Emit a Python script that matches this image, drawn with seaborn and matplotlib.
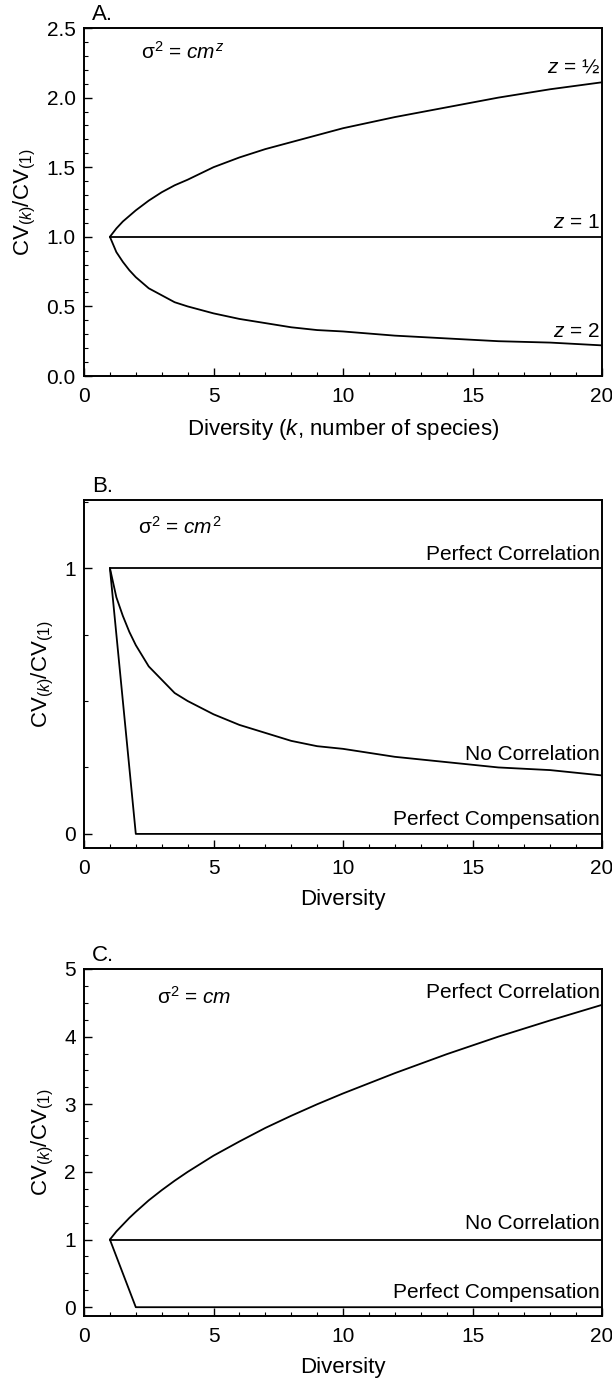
import matplotlib
matplotlib.use("Agg")
import matplotlib.pyplot as plt
import seaborn as sns
from matplotlib.ticker import MultipleLocator

# ---------------- data ----------------
k_pts = [1, 1.25, 1.5, 1.75, 2, 2.5, 3, 3.5, 4, 5, 6, 7, 8, 9, 10, 12, 14, 16, 18, 20]

# Panel A
a_z_half = [1.00, 1.06, 1.11, 1.15, 1.19, 1.26, 1.32, 1.37, 1.41, 1.50, 1.57, 1.63, 1.68, 1.73, 1.78, 1.86, 1.93, 2.00, 2.06, 2.11]
a_z_one = [1.00] * 20
a_z_two = [1.00, 0.89, 0.82, 0.76, 0.71, 0.63, 0.58, 0.53, 0.50, 0.45, 0.41, 0.38, 0.35, 0.33, 0.32, 0.29, 0.27, 0.25, 0.24, 0.22]

# Panel B
b_perf_corr_x = [1, 20]
b_perf_corr_y = [1.0, 1.0]
b_no_corr = [1.00, 0.89, 0.82, 0.76, 0.71, 0.63, 0.58, 0.53, 0.50, 0.45, 0.41, 0.38, 0.35, 0.33, 0.32, 0.29, 0.27, 0.25, 0.24, 0.22]
b_comp_x = [1, 2, 20]
b_comp_y = [1.0, 0.0, 0.0]

# Panel C
c_perf_corr = [1.00, 1.12, 1.22, 1.32, 1.41, 1.58, 1.73, 1.87, 2.00, 2.24, 2.45, 2.65, 2.83, 3.00, 3.16, 3.46, 3.74, 4.00, 4.24, 4.47]
c_no_corr_x = [1, 20]
c_no_corr_y = [1.0, 1.0]
c_comp_x = [1, 2, 20]
c_comp_y = [1.0, 0.0, 0.0]

x_ticks = [0, 5, 10, 15, 20]
a_yticks = [0.0, 0.5, 1.0, 1.5, 2.0, 2.5]
b_yticks = [0, 1]
c_yticks = [0, 1, 2, 3, 4, 5]

# ---------------- style ----------------
sns.set_theme(style="ticks")
plt.rcParams['font.family'] = ['Liberation Sans', 'DejaVu Sans']
plt.rcParams['mathtext.fontset'] = 'custom'
plt.rcParams['mathtext.rm'] = 'Liberation Sans'
plt.rcParams['mathtext.it'] = 'Liberation Sans:italic'
plt.rcParams['mathtext.bf'] = 'Liberation Sans:bold'
plt.rcParams['mathtext.sf'] = 'Liberation Sans'
plt.rcParams['text.color'] = 'black'
plt.rcParams['axes.labelcolor'] = 'black'
plt.rcParams['xtick.color'] = 'black'
plt.rcParams['ytick.color'] = 'black'

FS = 15
LW = 1.3
W, H = 612, 1383
fig = plt.figure(figsize=(W / 100, H / 100), dpi=100)

left, right = 84, 602
panels = [(28, 376), (500, 848), (969, 1316)]
axes = []
for top, bot in panels:
    ax = fig.add_axes([left / W, 1 - bot / H, (right - left) / W, (bot - top) / H])
    axes.append(ax)


def style_axis(ax, ylim, yticks, yminor, ylabels):
    ax.set_xlim(0, 20)
    ax.set_ylim(*ylim)
    ax.set_xticks(x_ticks)
    ax.set_xticklabels([str(t) for t in x_ticks], fontsize=FS)
    ax.set_yticks(yticks)
    ax.set_yticklabels(ylabels, fontsize=FS)
    ax.xaxis.set_minor_locator(MultipleLocator(1))
    ax.yaxis.set_minor_locator(MultipleLocator(yminor))
    ax.tick_params(which='major', direction='in', length=6, width=1.0, color='black')
    ax.tick_params(which='minor', direction='in', length=3, width=0.8, color='black')
    ax.tick_params(axis='x', which='major', pad=8)
    ax.tick_params(axis='y', which='major', pad=6)
    for s in ax.spines.values():
        s.set_linewidth(1.4)
        s.set_color('black')
        s.set_visible(True)
    ax.set_facecolor('white')
    ax.set_ylabel(r'CV$_{(k)}$/CV$_{(1)}$', fontsize=FS + 1, labelpad=6)


def label_line(ax, text, x, y, off):
    ax.annotate(text, xy=(x, y), xytext=(0, off), textcoords='offset points',
                ha='right', va='bottom', fontsize=FS)


# ---- Panel A ----
ax = axes[0]
sns.lineplot(x=k_pts, y=a_z_half, ax=ax, color='black', lw=LW)
sns.lineplot(x=k_pts, y=a_z_one, ax=ax, color='black', lw=LW)
sns.lineplot(x=k_pts, y=a_z_two, ax=ax, color='black', lw=LW)
style_axis(ax, (0, 2.5), a_yticks, 0.1, [f"{t:.1f}" for t in a_yticks])
ax.set_xlabel(r'Diversity ($k$, number of species)', fontsize=FS + 1, labelpad=8)
label_line(ax, r'$z$ = ½', 19.92, a_z_half[-1], 4)
label_line(ax, r'$z$ = 1', 19.92, a_z_one[-1], 3.5)
label_line(ax, r'$z$ = 2', 19.92, a_z_two[-1], 3.5)
ax.text(2.2, 2.33, r'σ$^2$ = $cm^z$', fontsize=FS, va='center', ha='left')
ax.text(0.015, 1.008, 'A.', transform=ax.transAxes, fontsize=FS + 1, va='bottom', ha='left')

# ---- Panel B ----
ax = axes[1]
sns.lineplot(x=b_perf_corr_x, y=b_perf_corr_y, ax=ax, color='black', lw=LW)
sns.lineplot(x=k_pts, y=b_no_corr, ax=ax, color='black', lw=LW)
sns.lineplot(x=b_comp_x, y=b_comp_y, ax=ax, color='black', lw=LW)
style_axis(ax, (-0.053, 1.256), b_yticks, 0.25, [str(t) for t in b_yticks])
ax.set_xlabel('Diversity', fontsize=FS + 1, labelpad=8)
label_line(ax, 'Perfect Correlation', 19.92, b_perf_corr_y[-1], 3)
label_line(ax, 'No Correlation', 19.92, b_no_corr[-1], 8)
label_line(ax, 'Perfect Compensation', 19.92, b_comp_y[-1], 3.5)
ax.text(2.1, 1.154, r'σ$^2$ = $cm^2$', fontsize=FS, va='center', ha='left')
ax.text(0.015, 1.008, 'B.', transform=ax.transAxes, fontsize=FS + 1, va='bottom', ha='left')

# ---- Panel C ----
ax = axes[2]
sns.lineplot(x=k_pts, y=c_perf_corr, ax=ax, color='black', lw=LW)
sns.lineplot(x=c_no_corr_x, y=c_no_corr_y, ax=ax, color='black', lw=LW)
sns.lineplot(x=c_comp_x, y=c_comp_y, ax=ax, color='black', lw=LW)
style_axis(ax, (-0.13, 5.0), c_yticks, 0.25, [str(t) for t in c_yticks])
ax.set_xlabel('Diversity', fontsize=FS + 1, labelpad=8)
label_line(ax, 'Perfect Correlation', 19.92, c_perf_corr[-1], 2)
label_line(ax, 'No Correlation', 19.92, c_no_corr_y[-1], 5)
label_line(ax, 'Perfect Compensation', 19.92, c_comp_y[-1], 3.5)
ax.text(2.8, 4.59, r'σ$^2$ = $cm$', fontsize=FS, va='center', ha='left')
ax.text(0.015, 1.008, 'C.', transform=ax.transAxes, fontsize=FS + 1, va='bottom', ha='left')

fig.savefig('out.png', dpi=100, facecolor='white')
